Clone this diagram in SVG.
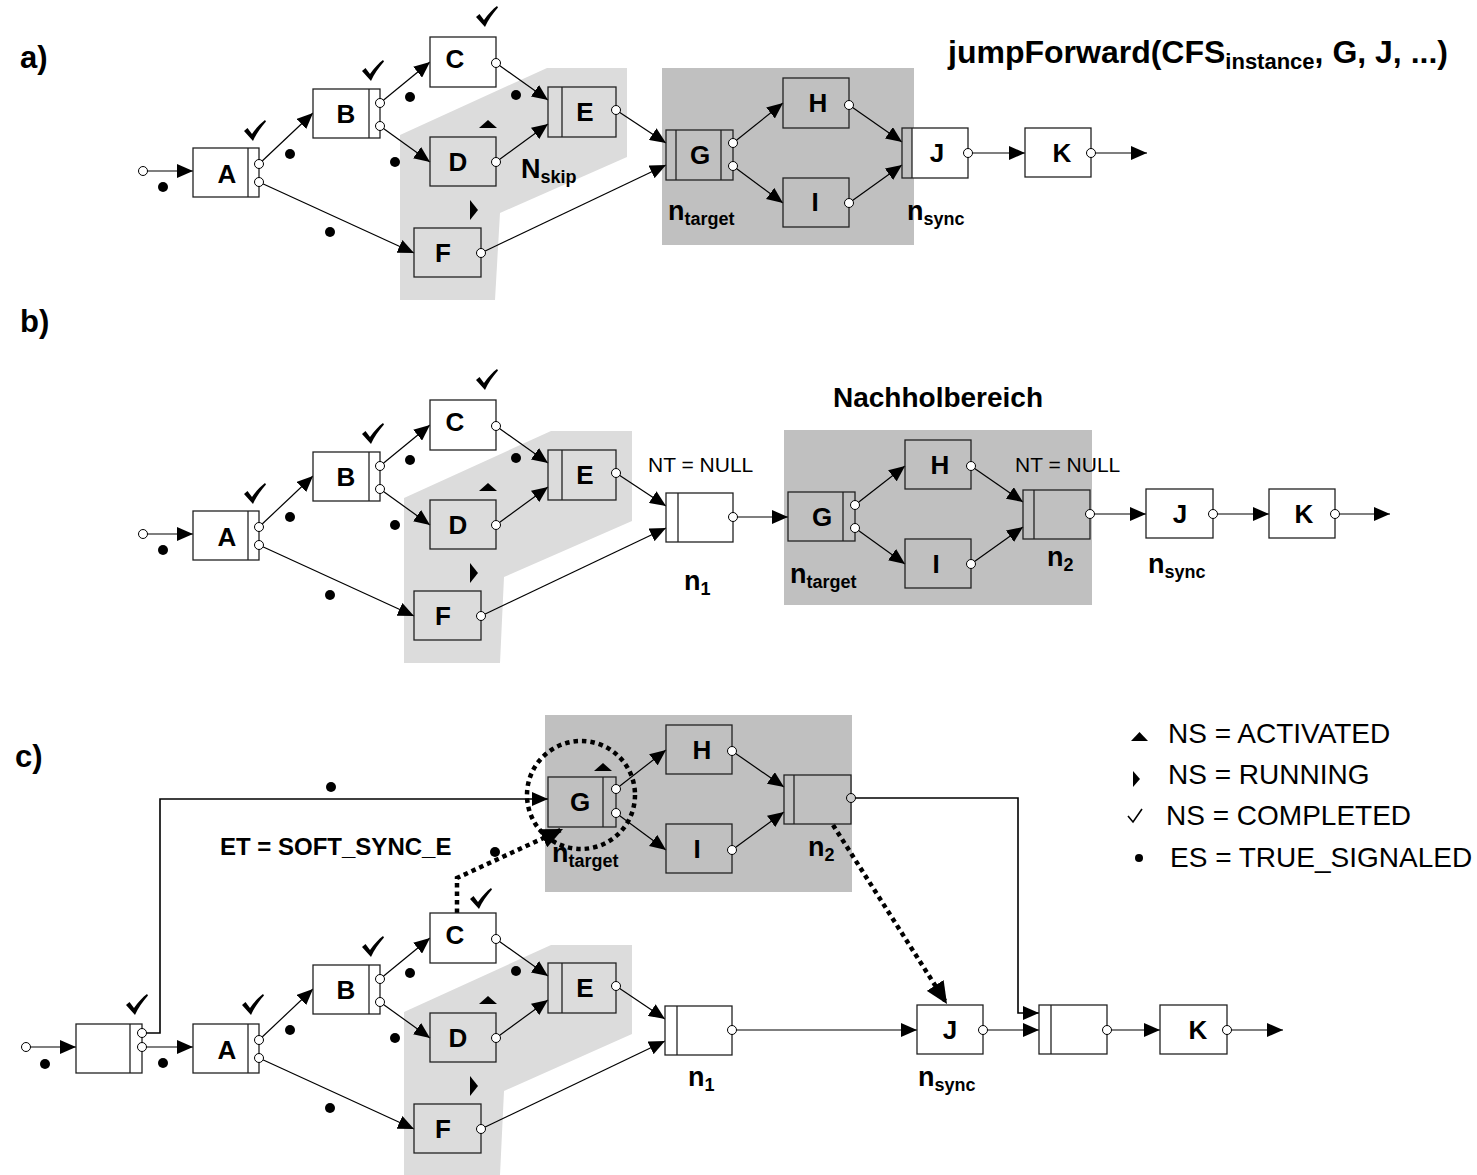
<svg xmlns="http://www.w3.org/2000/svg" xmlns:xlink="http://www.w3.org/1999/xlink" width="1477" height="1175" viewBox="0 0 1477 1175">
  <style>
    text { font-family: "Liberation Sans", Arial, sans-serif; fill: #000; }
    .box { fill: #fff; stroke: #222; stroke-width: 1.3; }
    .box.sh { fill: none; }
    .sep { stroke: #222; stroke-width: 1.3; }
    .port { fill: #fff; stroke: #000; stroke-width: 1; }
    .edge { fill: none; stroke: #000; stroke-width: 1.2; marker-end: url(#arr); }
    .dotted { fill: none; stroke: #000; stroke-width: 4.5; stroke-dasharray: 4.5 4; }
    .lbl { font-size: 26px; font-weight: bold; text-anchor: middle; }
    .nl { font-size: 27px; font-weight: bold; }
    .sub { font-size: 18px; }
    .panel { font-size: 31px; font-weight: bold; }
    .hdr { font-size: 28px; font-weight: bold; }
    .note { font-size: 21px; }
    .legend { font-size: 28px; }
    .light { fill: #dcdcdc; }
    .dark { fill: #c0c0c0; }
    .dot { fill: #000; }
  </style>
  <defs>
    <marker id="arr" viewBox="0 0 16 14" refX="16" refY="7" markerWidth="16" markerHeight="14" orient="auto" markerUnits="userSpaceOnUse">
      <path d="M0,0 L16,7 L0,14 Z" fill="#000"/>
    </marker>
    <marker id="arrBig" viewBox="0 0 22 20" refX="22" refY="10" markerWidth="22" markerHeight="20" orient="auto" markerUnits="userSpaceOnUse">
      <path d="M0,0 L22,10 L0,20 Z" fill="#000"/>
    </marker>
    <!-- state symbols -->
    <path id="chk" d="M-11,0 L-7.5,-3 L-3,3 C1,-3 6,-8 10,-11 L11,-9.5 C6,-4 1,3 -2,10 Z" fill="#000"/>
    <path id="triUp" d="M-9,4 L0,-4 L9,4 Z" fill="#000"/>
    <path id="triRight" d="M-4,-10 L4,0 L-4,10 Z" fill="#000"/>
  </defs>

  <rect x="0" y="0" width="1477" height="1175" fill="#fff"/>

  <!-- ============ panel a ============ -->
  <g id="panel-a">
    <text class="panel" x="20" y="68">a)</text>
    <text x="948" y="63" font-size="32" font-weight="bold">jumpForward(CFS<tspan font-size="22" dy="6">instance</tspan><tspan dy="-6">, G, J, ...)</tspan></text>

    <g id="a-regions">
      <polygon class="light" points="400,135 547,68 627,68 627,157 500,213 495,300 400,300"/>
      <rect class="dark" x="662" y="68" width="252" height="177"/>
    </g>

    <g id="a-edges">
      <line class="edge" x1="143" y1="171" x2="193" y2="171"/>
      <line class="edge" x1="259" y1="164" x2="313" y2="113"/>
      <line class="edge" x1="259" y1="182" x2="414" y2="253"/>
      <line class="edge" x1="380" y1="103" x2="430" y2="62"/>
      <line class="edge" x1="380" y1="126" x2="430" y2="162"/>
      <line class="edge" x1="496" y1="63" x2="548" y2="100"/>
      <line class="edge" x1="496" y1="162" x2="548" y2="124"/>
      <line class="edge" x1="616" y1="110" x2="666" y2="143"/>
      <line class="edge" x1="481" y1="253" x2="666" y2="165"/>
      <line class="edge" x1="733" y1="143" x2="783" y2="103"/>
      <line class="edge" x1="733" y1="166" x2="783" y2="203"/>
      <line class="edge" x1="849" y1="105" x2="902" y2="142"/>
      <line class="edge" x1="849" y1="203" x2="902" y2="165"/>
      <line class="edge" x1="968" y1="153" x2="1025" y2="153"/>
      <line class="edge" x1="1091" y1="153" x2="1147" y2="153"/>
    </g>

    <g id="a-nodes">
      <circle class="port" cx="143" cy="171" r="4.5"/>
      <g id="a-A"><rect class="box" x="193" y="148" width="66" height="49"/><line class="sep" x1="248" y1="148" x2="248" y2="197"/><text class="lbl" x="227" y="183">A</text><circle class="port" cx="259" cy="164" r="4.5"/><circle class="port" cx="259" cy="182" r="4.5"/></g>
      <g id="a-B"><rect class="box" x="313" y="89" width="67" height="49"/><line class="sep" x1="369" y1="89" x2="369" y2="138"/><text class="lbl" x="346" y="123">B</text><circle class="port" cx="380" cy="103" r="4.5"/><circle class="port" cx="380" cy="126" r="4.5"/></g>
      <g id="a-C"><rect class="box" x="430" y="37" width="66" height="50"/><text class="lbl" x="455" y="68">C</text><circle class="port" cx="496" cy="63" r="4.5"/></g>
      <g id="a-D"><rect class="box sh" x="430" y="137" width="66" height="49"/><text class="lbl" x="458" y="171">D</text><circle class="port" cx="496" cy="162" r="4.5"/></g>
      <g id="a-E"><rect class="box sh" x="548" y="87" width="68" height="50"/><line class="sep" x1="562" y1="87" x2="562" y2="137"/><text class="lbl" x="585" y="121">E</text><circle class="port" cx="616" cy="110" r="4.5"/></g>
      <g id="a-F"><rect class="box sh" x="414" y="228" width="67" height="49"/><text class="lbl" x="443" y="262">F</text><circle class="port" cx="481" cy="253" r="4.5"/></g>
      <g id="a-G"><rect class="box sh" x="666" y="130" width="67" height="50"/><line class="sep" x1="676" y1="130" x2="676" y2="180"/><line class="sep" x1="721" y1="130" x2="721" y2="180"/><text class="lbl" x="700" y="164">G</text><circle class="port" cx="733" cy="143" r="4.5"/><circle class="port" cx="733" cy="166" r="4.5"/></g>
      <g id="a-H"><rect class="box sh" x="783" y="78" width="66" height="50"/><text class="lbl" x="818" y="112">H</text><circle class="port" cx="849" cy="105" r="4.5"/></g>
      <g id="a-I"><rect class="box sh" x="783" y="178" width="66" height="49"/><text class="lbl" x="815" y="211">I</text><circle class="port" cx="849" cy="203" r="4.5"/></g>
      <g id="a-J"><rect x="912" y="128" width="56" height="50" fill="#fff"/><rect class="box sh" x="902" y="128" width="66" height="50"/><line class="sep" x1="912" y1="128" x2="912" y2="178"/><text class="lbl" x="937" y="162">J</text><circle class="port" cx="968" cy="153" r="4.5"/></g>
      <g id="a-K"><rect class="box" x="1025" y="128" width="66" height="49"/><text class="lbl" x="1062" y="162">K</text><circle class="port" cx="1091" cy="153" r="4.5"/></g>
    </g>

    <g id="a-marks">
      <circle class="dot" cx="163" cy="187" r="5"/>
      <circle class="dot" cx="290" cy="154" r="5"/>
      <circle class="dot" cx="410" cy="97" r="5"/>
      <circle class="dot" cx="395" cy="162" r="5"/>
      <circle class="dot" cx="330" cy="232" r="5"/>
      <circle class="dot" cx="516" cy="95" r="5"/>
      <use xlink:href="#chk" x="255" y="131"/>
      <use xlink:href="#chk" x="373" y="71"/>
      <use xlink:href="#chk" x="487" y="17"/>
      <use xlink:href="#triUp" x="488" y="124"/>
      <use xlink:href="#triRight" x="474" y="210"/>
    </g>

    <g id="a-labels">
      <text class="nl" x="521" y="178">N<tspan class="sub" dy="5">skip</tspan></text>
      <text class="nl" x="668" y="220">n<tspan class="sub" dy="5">target</tspan></text>
      <text class="nl" x="907" y="220">n<tspan class="sub" dy="5">sync</tspan></text>
    </g>
  </g>

  <!-- ============ panel b ============ -->
  <g id="panel-b">
    <text class="panel" x="20" y="332">b)</text>
    <text class="hdr" x="938" y="407" text-anchor="middle">Nachholbereich</text>

    <g id="b-regions">
      <polygon class="light" points="404,498 551,431 632,431 632,521 504,577 500,663 404,663"/>
      <rect class="dark" x="784" y="430" width="308" height="175"/>
    </g>

    <text class="note" x="648" y="472">NT = NULL</text>
    <text class="note" x="1015" y="472">NT = NULL</text>

    <g id="b-edges">
      <line class="edge" x1="143" y1="534" x2="193" y2="534"/>
      <line class="edge" x1="259" y1="527" x2="313" y2="476"/>
      <line class="edge" x1="259" y1="545" x2="414" y2="616"/>
      <line class="edge" x1="380" y1="466" x2="430" y2="425"/>
      <line class="edge" x1="380" y1="489" x2="430" y2="525"/>
      <line class="edge" x1="496" y1="426" x2="548" y2="463"/>
      <line class="edge" x1="496" y1="525" x2="548" y2="487"/>
      <line class="edge" x1="616" y1="473" x2="666" y2="506"/>
      <line class="edge" x1="481" y1="616" x2="666" y2="528"/>
      <line class="edge" x1="733" y1="517" x2="788" y2="517"/>
      <line class="edge" x1="855" y1="505" x2="905" y2="466"/>
      <line class="edge" x1="855" y1="528" x2="905" y2="564"/>
      <line class="edge" x1="971" y1="466" x2="1023" y2="502"/>
      <line class="edge" x1="971" y1="564" x2="1023" y2="527"/>
      <line class="edge" x1="1090" y1="514" x2="1146" y2="514"/>
      <line class="edge" x1="1213" y1="514" x2="1269" y2="514"/>
      <line class="edge" x1="1335" y1="514" x2="1390" y2="514"/>
    </g>

    <g id="b-nodes">
      <circle class="port" cx="143" cy="534" r="4.5"/>
      <g id="b-A"><rect class="box" x="193" y="511" width="66" height="49"/><line class="sep" x1="248" y1="511" x2="248" y2="560"/><text class="lbl" x="227" y="546">A</text><circle class="port" cx="259" cy="527" r="4.5"/><circle class="port" cx="259" cy="545" r="4.5"/></g>
      <g id="b-B"><rect class="box" x="313" y="452" width="67" height="49"/><line class="sep" x1="369" y1="452" x2="369" y2="501"/><text class="lbl" x="346" y="486">B</text><circle class="port" cx="380" cy="466" r="4.5"/><circle class="port" cx="380" cy="489" r="4.5"/></g>
      <g id="b-C"><rect class="box" x="430" y="400" width="66" height="50"/><text class="lbl" x="455" y="431">C</text><circle class="port" cx="496" cy="426" r="4.5"/></g>
      <g id="b-D"><rect class="box sh" x="430" y="500" width="66" height="49"/><text class="lbl" x="458" y="534">D</text><circle class="port" cx="496" cy="525" r="4.5"/></g>
      <g id="b-E"><rect class="box sh" x="548" y="450" width="68" height="50"/><line class="sep" x1="562" y1="450" x2="562" y2="500"/><text class="lbl" x="585" y="484">E</text><circle class="port" cx="616" cy="473" r="4.5"/></g>
      <g id="b-F"><rect class="box sh" x="414" y="591" width="67" height="49"/><text class="lbl" x="443" y="625">F</text><circle class="port" cx="481" cy="616" r="4.5"/></g>
      <g id="b-n1"><rect class="box" x="666" y="493" width="67" height="49"/><line class="sep" x1="678" y1="493" x2="678" y2="542"/><circle class="port" cx="733" cy="517" r="4.5"/></g>
      <g id="b-G"><rect class="box sh" x="788" y="492" width="67" height="49"/><line class="sep" x1="843" y1="492" x2="843" y2="541"/><text class="lbl" x="822" y="526">G</text><circle class="port" cx="855" cy="505" r="4.5"/><circle class="port" cx="855" cy="528" r="4.5"/></g>
      <g id="b-H"><rect class="box sh" x="905" y="440" width="66" height="49"/><text class="lbl" x="940" y="474">H</text><circle class="port" cx="971" cy="466" r="4.5"/></g>
      <g id="b-I"><rect class="box sh" x="905" y="539" width="66" height="49"/><text class="lbl" x="936" y="573">I</text><circle class="port" cx="971" cy="564" r="4.5"/></g>
      <g id="b-n2"><rect class="box sh" x="1023" y="490" width="67" height="49"/><line class="sep" x1="1034" y1="490" x2="1034" y2="539"/><circle class="port" cx="1090" cy="514" r="4.5"/></g>
      <g id="b-J"><rect class="box" x="1146" y="489" width="67" height="49"/><text class="lbl" x="1180" y="523">J</text><circle class="port" cx="1213" cy="514" r="4.5"/></g>
      <g id="b-K"><rect class="box" x="1269" y="489" width="66" height="49"/><text class="lbl" x="1304" y="523">K</text><circle class="port" cx="1335" cy="514" r="4.5"/></g>
    </g>

    <g id="b-marks">
      <circle class="dot" cx="163" cy="550" r="5"/>
      <circle class="dot" cx="290" cy="517" r="5"/>
      <circle class="dot" cx="410" cy="460" r="5"/>
      <circle class="dot" cx="395" cy="525" r="5"/>
      <circle class="dot" cx="330" cy="595" r="5"/>
      <circle class="dot" cx="516" cy="458" r="5"/>
      <use xlink:href="#chk" x="255" y="494"/>
      <use xlink:href="#chk" x="373" y="434"/>
      <use xlink:href="#chk" x="487" y="380"/>
      <use xlink:href="#triUp" x="488" y="487"/>
      <use xlink:href="#triRight" x="474" y="573"/>
    </g>

    <g id="b-labels">
      <text class="nl" x="684" y="590">n<tspan class="sub" dy="5">1</tspan></text>
      <text class="nl" x="790" y="583">n<tspan class="sub" dy="5">target</tspan></text>
      <text class="nl" x="1047" y="566">n<tspan class="sub" dy="5">2</tspan></text>
      <text class="nl" x="1148" y="573">n<tspan class="sub" dy="5">sync</tspan></text>
    </g>
  </g>

  <!-- ============ panel c ============ -->
  <g id="panel-c">
    <text class="panel" x="15" y="767">c)</text>
    <text x="220" y="855" font-size="24" font-weight="bold">ET = SOFT_SYNC_E</text>

    <g id="c-regions">
      <polygon class="light" points="404,1012 551,945 632,945 632,1034 504,1091 500,1175 404,1175"/>
      <rect class="dark" x="545" y="715" width="307" height="177"/>
    </g>

    <g id="c-edges">
      <line class="edge" x1="26" y1="1047" x2="76" y2="1047"/>
      <line class="edge" x1="142" y1="1047" x2="193" y2="1047"/>
      <path class="edge" d="M142,1033 H160 V799 H548" style="stroke-width:1.6"/>
      <line class="edge" x1="259" y1="1040" x2="313" y2="989"/>
      <line class="edge" x1="259" y1="1058" x2="414" y2="1129"/>
      <line class="edge" x1="380" y1="979" x2="430" y2="938"/>
      <line class="edge" x1="380" y1="1002" x2="430" y2="1038"/>
      <line class="edge" x1="496" y1="939" x2="548" y2="976"/>
      <line class="edge" x1="496" y1="1038" x2="548" y2="1000"/>
      <line class="edge" x1="616" y1="986" x2="665" y2="1019"/>
      <line class="edge" x1="481" y1="1129" x2="665" y2="1041"/>
      <line class="edge" x1="616" y1="789" x2="666" y2="750"/>
      <line class="edge" x1="616" y1="813" x2="666" y2="850"/>
      <line class="edge" x1="732" y1="751" x2="784" y2="787"/>
      <line class="edge" x1="732" y1="850" x2="784" y2="812"/>
      <path class="edge" d="M851,798 H1018 V1013 H1039" style="stroke-width:1.6"/>
      <line class="edge" x1="732" y1="1030" x2="917" y2="1030"/>
      <line class="edge" x1="983" y1="1030" x2="1039" y2="1030"/>
      <line class="edge" x1="1107" y1="1030" x2="1160" y2="1030"/>
      <line class="edge" x1="1227" y1="1030" x2="1283" y2="1030"/>
      <!-- soft synchronisation edges -->
      <path class="dotted" d="M457,913 V878 L563,829" marker-end="url(#arrBig)"/>
      <line class="dotted" x1="833" y1="825" x2="947" y2="1004" marker-end="url(#arrBig)"/>
      <circle class="dotted" cx="581" cy="795" r="54"/>
    </g>

    <g id="c-nodes">
      <circle class="port" cx="26" cy="1047" r="4.5"/>
      <g id="c-X"><rect class="box" x="76" y="1024" width="66" height="49"/><line class="sep" x1="130" y1="1024" x2="130" y2="1073"/><circle class="port" cx="142" cy="1033" r="4.5"/><circle class="port" cx="142" cy="1047" r="4.5"/></g>
      <g id="c-A"><rect class="box" x="193" y="1024" width="66" height="49"/><line class="sep" x1="248" y1="1024" x2="248" y2="1073"/><text class="lbl" x="227" y="1059">A</text><circle class="port" cx="259" cy="1040" r="4.5"/><circle class="port" cx="259" cy="1058" r="4.5"/></g>
      <g id="c-B"><rect class="box" x="313" y="965" width="67" height="49"/><line class="sep" x1="369" y1="965" x2="369" y2="1014"/><text class="lbl" x="346" y="999">B</text><circle class="port" cx="380" cy="979" r="4.5"/><circle class="port" cx="380" cy="1002" r="4.5"/></g>
      <g id="c-C"><rect class="box" x="430" y="913" width="66" height="50"/><text class="lbl" x="455" y="944">C</text><circle class="port" cx="496" cy="939" r="4.5"/></g>
      <g id="c-D"><rect class="box sh" x="430" y="1013" width="66" height="49"/><text class="lbl" x="458" y="1047">D</text><circle class="port" cx="496" cy="1038" r="4.5"/></g>
      <g id="c-E"><rect class="box sh" x="548" y="963" width="68" height="50"/><line class="sep" x1="562" y1="963" x2="562" y2="1013"/><text class="lbl" x="585" y="997">E</text><circle class="port" cx="616" cy="986" r="4.5"/></g>
      <g id="c-F"><rect class="box sh" x="414" y="1104" width="67" height="49"/><text class="lbl" x="443" y="1138">F</text><circle class="port" cx="481" cy="1129" r="4.5"/></g>
      <g id="c-G"><rect class="box sh" x="548" y="777" width="68" height="50"/><line class="sep" x1="603" y1="777" x2="603" y2="827"/><text class="lbl" x="580" y="811">G</text><circle class="port" cx="616" cy="789" r="4.5"/><circle class="port" cx="616" cy="813" r="4.5"/></g>
      <g id="c-H"><rect class="box sh" x="666" y="725" width="66" height="49"/><text class="lbl" x="702" y="759">H</text><circle class="port" cx="732" cy="751" r="4.5"/></g>
      <g id="c-I"><rect class="box sh" x="666" y="824" width="66" height="49"/><text class="lbl" x="697" y="858">I</text><circle class="port" cx="732" cy="850" r="4.5"/></g>
      <g id="c-n2"><rect class="box sh" x="784" y="775" width="67" height="49"/><line class="sep" x1="794" y1="775" x2="794" y2="824"/><circle class="port" cx="851" cy="798" r="4.5" style="fill:#ccc"/></g>
      <g id="c-n1"><rect class="box" x="665" y="1006" width="67" height="49"/><line class="sep" x1="677" y1="1006" x2="677" y2="1055"/><circle class="port" cx="732" cy="1030" r="4.5"/></g>
      <g id="c-J"><rect class="box" x="917" y="1005" width="66" height="49"/><text class="lbl" x="950" y="1039">J</text><circle class="port" cx="983" cy="1030" r="4.5"/></g>
      <g id="c-Y"><rect class="box" x="1039" y="1005" width="68" height="49"/><line class="sep" x1="1051" y1="1005" x2="1051" y2="1054"/><circle class="port" cx="1107" cy="1030" r="4.5"/></g>
      <g id="c-K"><rect class="box" x="1160" y="1005" width="67" height="49"/><text class="lbl" x="1198" y="1039">K</text><circle class="port" cx="1227" cy="1030" r="4.5"/></g>
    </g>

    <g id="c-marks">
      <circle class="dot" cx="45" cy="1064" r="5"/>
      <circle class="dot" cx="163" cy="1063" r="5"/>
      <circle class="dot" cx="331" cy="787" r="5"/>
      <circle class="dot" cx="495" cy="852" r="5"/>
      <circle class="dot" cx="290" cy="1030" r="5"/>
      <circle class="dot" cx="410" cy="973" r="5"/>
      <circle class="dot" cx="395" cy="1038" r="5"/>
      <circle class="dot" cx="330" cy="1108" r="5"/>
      <circle class="dot" cx="516" cy="971" r="5"/>
      <use xlink:href="#chk" x="137" y="1005"/>
      <use xlink:href="#chk" x="253" y="1005"/>
      <use xlink:href="#chk" x="373" y="947"/>
      <use xlink:href="#chk" x="481" y="899"/>
      <use xlink:href="#triUp" x="488" y="1000"/>
      <use xlink:href="#triRight" x="474" y="1086"/>
      <use xlink:href="#triUp" x="603" y="767"/>
    </g>

    <g id="c-labels">
      <text class="nl" x="552" y="862">n<tspan class="sub" dy="5">target</tspan></text>
      <text class="nl" x="808" y="856">n<tspan class="sub" dy="5">2</tspan></text>
      <text class="nl" x="688" y="1086">n<tspan class="sub" dy="5">1</tspan></text>
      <text class="nl" x="918" y="1086">n<tspan class="sub" dy="5">sync</tspan></text>
    </g>
  </g>

  <!-- ============ legend ============ -->
  <g id="legend">
    <path d="M1131,741 L1139.5,732 L1148,741 Z" fill="#000"/>
    <text class="legend" x="1168" y="743">NS = ACTIVATED</text>
    <path d="M1133,771 L1140,779 L1133,787 Z" fill="#000"/>
    <text class="legend" x="1168" y="784">NS = RUNNING</text>
    <path d="M1128,816 L1133,822 L1142,809" fill="none" stroke="#000" stroke-width="1.6"/>
    <text class="legend" x="1166" y="825">NS = COMPLETED</text>
    <circle cx="1139" cy="858" r="4" fill="#000"/>
    <text class="legend" x="1170" y="867">ES = TRUE_SIGNALED</text>
  </g>
</svg>
